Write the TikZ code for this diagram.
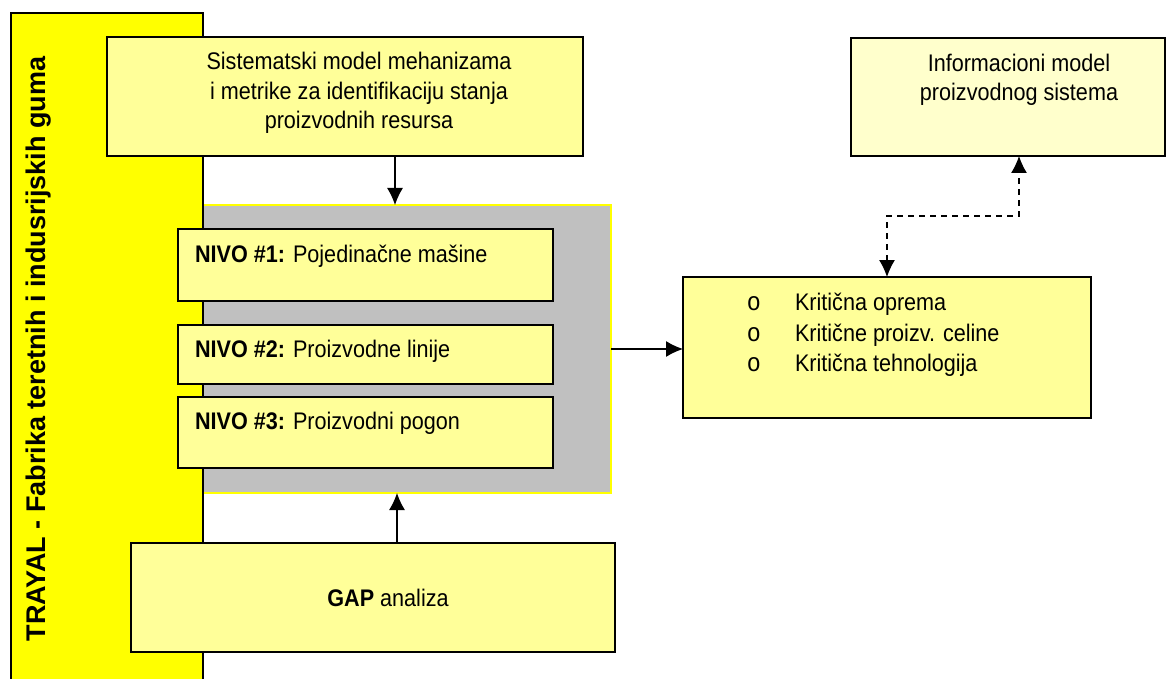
\documentclass[tikz,border=0pt]{standalone}
\usepackage{fontspec}
\setmainfont{Liberation Sans}[FakeStretch=0.9]
\newfontfamily\sidefont{Liberation Sans}
\newfontfamily\bulletfont{Liberation Mono}[FakeStretch=0.9]
\usepackage{tikz}
\usetikzlibrary{arrows.meta}
\definecolor{baryellow}{HTML}{FFFF00}
\definecolor{boxyellow}{HTML}{FFFF99}
\definecolor{paleyellow}{HTML}{FFFFCC}
\definecolor{levelgray}{HTML}{C0C0C0}

\begin{document}
\begin{tikzpicture}[x=1pt,y=-1pt,
      every node/.style={inner sep=0pt,outer sep=0pt},
      box/.style={draw=black,line width=1.3pt,fill=boxyellow,anchor=north west},
      txt/.style={font=\fontsize{24}{29.5}\selectfont,align=center},
      item/.style={font=\fontsize{24}{29.5}\selectfont,anchor=base west},
      dot/.style={font=\bulletfont\fontsize{26}{30}\selectfont,anchor=base},
      link/.style={line width=1.2pt,-{Latex[length=17pt,width=16pt]}},
      dlink/.style={line width=1.2pt,dash pattern=on 6pt off 5pt,
        {Latex[length=17pt,width=16pt]}-{Latex[length=17pt,width=16pt]}}]
  \useasboundingbox (0,0) rectangle (1175,679);
  % gray frame with the levels
  \node[draw=baryellow,line width=1.6pt,fill=levelgray,anchor=north west,
    minimum width=408pt,minimum height=288pt] (levels) at (203,205) {};
  % side bar
  \node[box,fill=baryellow,minimum width=192pt,minimum height=690pt] (bar) at (11,13) {};
  \node[rotate=90,anchor=base,font=\sidefont\bfseries\fontsize{27}{32}\selectfont]
    (firm) at (45,349) {TRAYAL - Fabrika teretnih i indusrijskih guma};
  % top box
  \node[box,minimum width=476pt,minimum height=119pt] (model) at (107,37) {};
  \node[txt] (modeltext) at (359,93)
    {Sistematski model mehanizama\\i metrike za identifikaciju stanja\\proizvodnih resursa};
  % levels
  \node[box,minimum width=375pt,minimum height=72pt] (nivo1) at (178,229) {};
  \node[item] (nivo1text) at (195,262) {\textbf{NIVO \#1:} Pojedinačne mašine};
  \node[box,minimum width=375pt,minimum height=59pt] (nivo2) at (178,325) {};
  \node[item] (nivo2text) at (195,357) {\textbf{NIVO \#2:} Proizvodne linije};
  \node[box,minimum width=375pt,minimum height=71pt] (nivo3) at (178,397) {};
  \node[item] (nivo3text) at (195,429) {\textbf{NIVO \#3:} Proizvodni pogon};
  % gap box
  \node[box,minimum width=484pt,minimum height=109pt] (gap) at (131,543) {};
  \node[txt,anchor=base] (gaptext) at (388,606) {\textbf{GAP} analiza};
  % critical items
  \node[box,minimum width=408pt,minimum height=141pt] (crit) at (683,277) {};
  \node[dot] (dot1) at (754,310) {o};
  \node[item] (crit1) at (795,310) {Kritična oprema};
  \node[dot] (dot2) at (754,341) {o};
  \node[item] (crit2) at (795,341) {Kritične proizv. celine};
  \node[dot] (dot3) at (754,371) {o};
  \node[item] (crit3) at (795,371) {Kritična tehnologija};
  % information model
  \node[box,fill=paleyellow,minimum width=314pt,minimum height=118pt] (info) at (851,38) {};
  \node[txt] (infotext) at (1019,80) {Informacioni model\\proizvodnog sistema};
  % connectors
  \draw[link] ([xshift=50pt]model.south) -- ([xshift=50pt]model.south |- levels.north);
  \draw[link] ([xshift=24pt]gap.north) -- ([xshift=24pt]gap.north |- levels.south);
  \draw[link] (levels.east) -- (levels.east -| crit.west);
  \draw[dlink] (crit.north) -- ++(0,-61) -| ([xshift=11pt]info.south);
\end{tikzpicture}
\end{document}
